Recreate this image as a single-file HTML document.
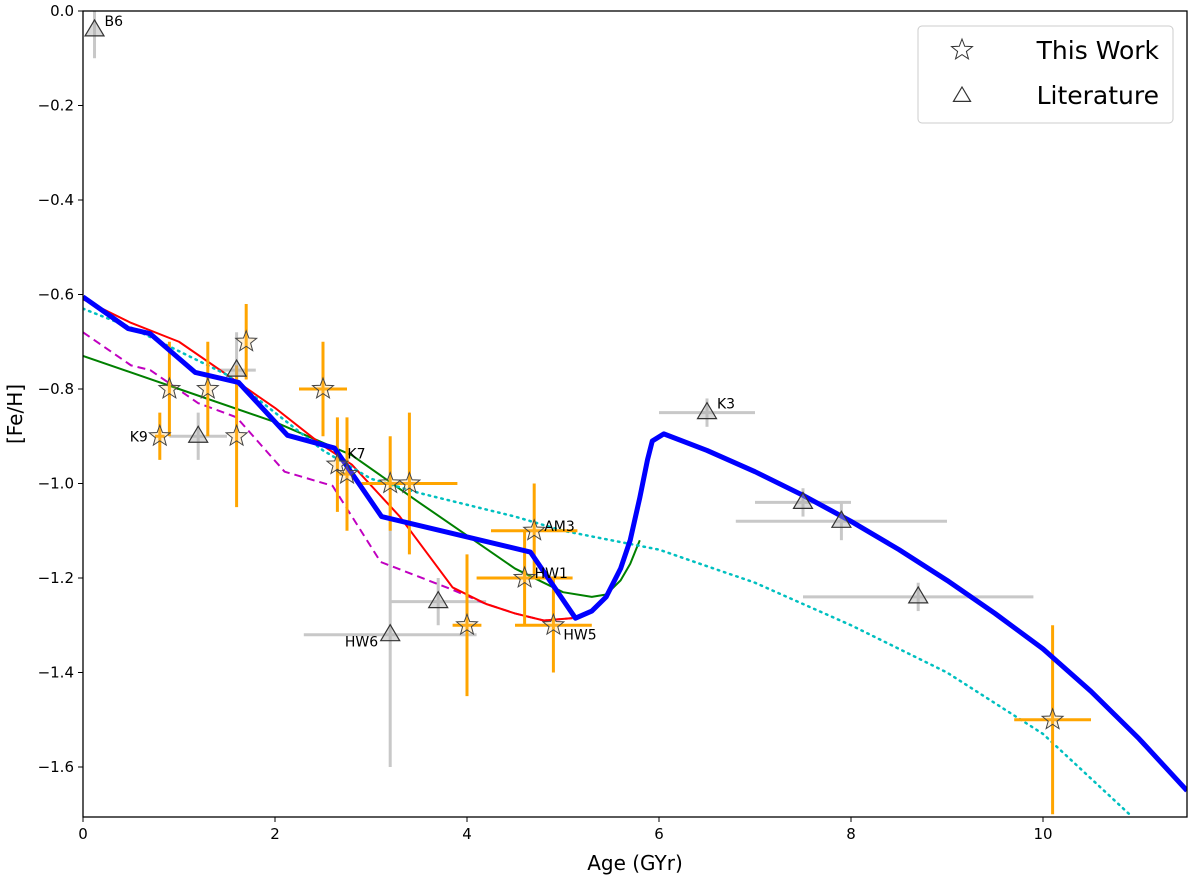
<!DOCTYPE html>
<html><head><meta charset="utf-8"><style>
body{margin:0;background:#fff}
svg{display:block;font-family:"DejaVu Sans","Liberation Sans",sans-serif}
</style></head><body>
<svg id="chart" width="1200" height="883"></svg>
<script>
const starX=[0.8,0.9,1.3,1.6,1.7,2.5,2.65,2.75,3.2,3.4,4.0,4.7,4.6,4.9,10.1];
const starY=[-0.9,-0.8,-0.8,-0.9,-0.7,-0.8,-0.96,-0.98,-1.0,-1.0,-1.3,-1.1,-1.2,-1.3,-1.5];
const starXerr=[0.05,0,0,0,0,0.25,0,0.08,0,0.5,0.15,0.45,0.5,0.4,0.4];
const starYerr=[0.05,0.1,0.1,0.15,0.08,0.1,0.1,0.12,0.1,0.15,0.15,0.1,0.1,0.1,0.2];
const starLab=["K9","","","","","","K7","","","","","AM3","HW1","HW5",""];
const triX=[0.12,1.2,1.6,3.2,3.7,6.5,7.5,7.9,8.7];
const triY=[-0.04,-0.9,-0.76,-1.32,-1.25,-0.85,-1.04,-1.08,-1.24];
const triXerr=[0,0.3,0.2,0.9,0.5,0.5,0.5,1.1,1.2];
const triYerr=[0.06,0.05,0.08,0.28,0.05,0.03,0.03,0.04,0.03];
const triLab=["B6","","","HW6","","K3","","",""];
const blueX=[0,0.47,0.7,1.17,1.62,2.13,2.62,3.11,4.66,5.13,5.3,5.45,5.6,5.7,5.8,5.88,5.93,6.05,6.5,7,7.5,8,8.5,9,9.5,10,10.5,11,11.5];
const blueY=[-0.605,-0.672,-0.683,-0.765,-0.786,-0.898,-0.925,-1.07,-1.145,-1.285,-1.27,-1.24,-1.18,-1.12,-1.03,-0.95,-0.91,-0.895,-0.93,-0.975,-1.025,-1.08,-1.14,-1.205,-1.275,-1.35,-1.44,-1.54,-1.65];
const cyanX=[0,0.5,1,1.5,2,2.5,3,3.5,4,4.5,5,5.5,6,7,8,9,10,10.9];
const cyanY=[-0.63,-0.67,-0.72,-0.77,-0.85,-0.93,-0.99,-1.02,-1.045,-1.07,-1.1,-1.12,-1.14,-1.21,-1.3,-1.4,-1.53,-1.7];
const redX=[0,0.5,1,1.5,2,2.5,2.8,3.3,3.85,4.2,4.5,4.8,5.1];
const redY=[-0.61,-0.66,-0.7,-0.77,-0.84,-0.92,-0.96,-1.07,-1.22,-1.255,-1.275,-1.29,-1.285];
const magX=[0,0.5,0.7,1.2,1.6,2.1,2.6,3.1,3.85,4.2,4.5,4.8,5.1];
const magY=[-0.68,-0.75,-0.76,-0.83,-0.86,-0.975,-1.005,-1.166,-1.225,-1.255,-1.275,-1.29,-1.285];
const greenX=[0,1,2,2.8,3.5,4,4.5,5,5.3,5.45,5.6,5.7,5.8];
const greenY=[-0.73,-0.8,-0.87,-0.94,-1.04,-1.11,-1.18,-1.23,-1.24,-1.235,-1.205,-1.17,-1.12];
const xTicks=[0,2,4,6,8,10];
const yTicks=[0,-0.2,-0.4,-0.6,-0.8,-1.0,-1.2,-1.4,-1.6];

const L=83,R=1187,T=11,B=817,XMAX=11.5;
const sx=v=>L+v*(R-L)/XMAX;
const sy=v=>T-v*472.5;
const svg=document.getElementById('chart');
const NS='http://www.w3.org/2000/svg';
function mk(tag,at,parent){const e=document.createElementNS(NS,tag);for(const k in at)e.setAttribute(k,at[k]);(parent||svg).appendChild(e);return e;}
const clip=mk('clipPath',{id:'pc'});mk('rect',{x:L,y:T,width:R-L,height:B-T},clip);
const plot=mk('g',{'clip-path':'url(#pc)'});



function line(xs,ys,st,name){
  const p=mk('polyline',Object.assign({points:xs.map((x,i)=>sx(x)+','+sy(ys[i])).join(' '),fill:'none','stroke-linejoin':'round'},st),plot);
  
  
}
function star(cx,cy,r,fill,stroke,par){
  let pts=[];for(let i=0;i<10;i++){const a=-Math.PI/2+i*Math.PI/5;const rr=i%2?r*0.42:r;pts.push((cx+rr*Math.cos(a))+','+(cy+rr*Math.sin(a)));}
  return mk('polygon',{points:pts.join(' '),fill:fill,stroke:stroke,'stroke-width':1},par||plot);
}
function tri(cx,cy,r,fill,stroke,par){
  return mk('polygon',{points:`${cx},${cy-r} ${cx+r*0.95},${cy+r*0.6} ${cx-r*0.95},${cy+r*0.6}`,fill:fill,stroke:stroke,'stroke-width':1.2},par||plot);
}
triX.forEach((x,i)=>{
  const g=mk('g',{},plot);
  
  
  const c='#c8c8c8';
  if(triXerr[i]>0) mk('line',{x1:sx(x-triXerr[i]),x2:sx(x+triXerr[i]),y1:sy(triY[i]),y2:sy(triY[i]),stroke:c,'stroke-width':3},g);
  mk('line',{x1:sx(x),x2:sx(x),y1:sy(triY[i]+triYerr[i]),y2:sy(triY[i]-triYerr[i]),stroke:c,'stroke-width':3},g);
});
line(magX,magY,{stroke:'#c000c0','stroke-width':2,'stroke-dasharray':'8,5'},'magenta-dashed-model');
line(greenX,greenY,{stroke:'#008000','stroke-width':2},'green-model');
line(redX,redY,{stroke:'#ff0000','stroke-width':2},'red-model');
line(cyanX,cyanY,{stroke:'#00c0c0','stroke-width':2.5,'stroke-dasharray':'1.5,5','stroke-linecap':'round'},'cyan-dotted-model');
starX.forEach((x,i)=>{
  const g=mk('g',{},plot);
  
  
  const c='#ffa500';
  if(starXerr[i]>0) mk('line',{x1:sx(x-starXerr[i]),x2:sx(x+starXerr[i]),y1:sy(starY[i]),y2:sy(starY[i]),stroke:c,'stroke-width':3},g);
  mk('line',{x1:sx(x),x2:sx(x),y1:sy(starY[i]+starYerr[i]),y2:sy(starY[i]-starYerr[i]),stroke:c,'stroke-width':3},g);
});
line(blueX,blueY,{stroke:'#0000ff','stroke-width':5},'blue-model');
triX.forEach((x,i)=>{
  const t=tri(sx(x),sy(triY[i]),10,'rgba(170,170,170,0.45)','#333');
  
  
  if(triLab[i]){const tx=mk('text',{x:sx(x)+(i==3?-12:10),y:sy(triY[i])+(i==3?12:-4),'font-size':14,'text-anchor':i==3?'end':'start',fill:'#000'},svg);tx.textContent=triLab[i];
  
  }
});
starX.forEach((x,i)=>{
  const s=star(sx(x),sy(starY[i]),11,'rgba(255,200,100,0.25)','#444');
  
  
  if(starLab[i]){const left=starLab[i]=='K9';
  const tx=mk('text',{x:sx(x)+(left?-12:10),y:sy(starY[i])+(starLab[i]=='HW5'?14:(starLab[i]=='K7'?-6:0))+ (left?5:0),'font-size':14,'text-anchor':left?'end':'start',fill:'#000'},svg);tx.textContent=starLab[i];
  
  }
});
const fr=mk('rect',{x:L,y:T,width:R-L,height:B-T,fill:'none',stroke:'#000','stroke-width':1.3});


xTicks.forEach(v=>{
  mk('line',{x1:sx(v),x2:sx(v),y1:B,y2:B+5,stroke:'#000'});
  const t=mk('text',{x:sx(v),y:B+22,'font-size':15,'text-anchor':'middle'});t.textContent=v;
  
  
});
yTicks.forEach(v=>{
  mk('line',{x1:L-5,x2:L,y1:sy(v),y2:sy(v),stroke:'#000'});
  const t=mk('text',{x:L-9,y:sy(v)+5,'font-size':15,'text-anchor':'end'});t.textContent=(v===0?'0.0':'\u2212'+Math.abs(v).toFixed(1));
  
  
});
const xl=mk('text',{x:(L+R)/2,y:870,'font-size':20,'text-anchor':'middle'});xl.textContent='Age (GYr)';


const yl=mk('text',{x:22,y:(T+B)/2,'font-size':20,'text-anchor':'middle',transform:`rotate(-90 22 ${(T+B)/2})`});yl.textContent='[Fe/H]';


const lg=mk('g',{});


mk('rect',{x:918,y:26,width:255,height:97,rx:4,fill:'#fff',stroke:'#ccc'},lg);
const ls=star(962,50,11,'none','#333',lg);


const lt=tri(962,96,9,'none','#333',lg);


const t1=mk('text',{x:1159,y:59,'font-size':25,'text-anchor':'end'},lg);t1.textContent='This Work';


const t2=mk('text',{x:1159,y:104,'font-size':25,'text-anchor':'end'},lg);t2.textContent='Literature';


</script>
</body></html>
